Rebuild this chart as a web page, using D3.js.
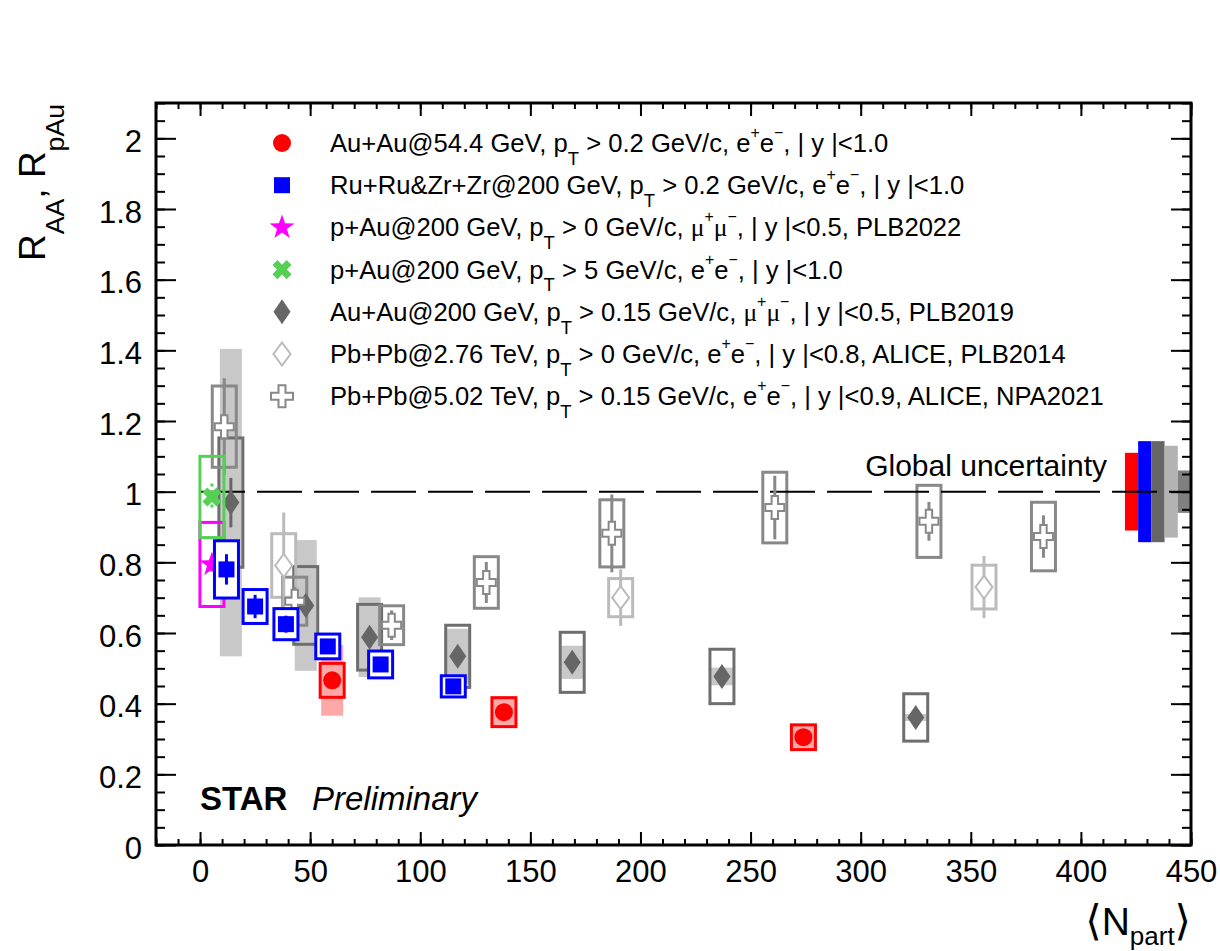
<!DOCTYPE html>
<html><head><meta charset="utf-8">
<script src="https://cdn.jsdelivr.net/npm/d3@7"></script>
<style>
body{margin:0;background:#fff}
text{font-family:"Liberation Sans",Arial,Helvetica,sans-serif;fill:#000}
</style>
</head><body>
<svg id="chart" width="1220" height="951"></svg>
<script>
// ---------------- DATA ----------------
const auau54Npart = [60, 138, 274];
const auau54R     = [0.466, 0.376, 0.305];
const auau54Stat  = [0.012, 0.010, 0.008];
const auau54Sys   = [0.048, 0.041, 0.035];
const auau54Band  = [0.100, 0.041, 0.035];

const ruzrNpart = [12, 25, 39, 58, 82, 115];
const ruzrR     = [0.780, 0.675, 0.625, 0.562, 0.511, 0.449];
const ruzrStat  = [0.043, 0.033, 0.024, 0.020, 0.015, 0.012];
const ruzrSys   = [0.081, 0.048, 0.044, 0.035, 0.038, 0.030];

const pau0Npart = [5.4];
const pau0R     = [0.794];
const pau0Stat  = [0.020];
const pau0Sys   = [0.119];

const pau5Npart = [5.4];
const pau5R     = [0.985];
const pau5Stat  = [0.038];
const pau5Sys   = [0.115];

const auau200Npart = [14, 48, 77, 117, 169, 237, 325];
const auau200R     = [0.969, 0.678, 0.588, 0.534, 0.517, 0.477, 0.361];
const auau200Stat  = [0.070, 0.030, 0.020, 0.020, 0.020, 0.020, 0.020];
const auau200Sys   = [0.183, 0.110, 0.093, 0.088, 0.085, 0.077, 0.067];
const auau200Band  = [0.435, 0.185, 0.113, 0.078, 0.047, 0.025, 0.010];

const pbpb276Npart = [38, 191, 356];
const pbpb276R     = [0.791, 0.700, 0.730];
const pbpb276Stat  = [0.150, 0.080, 0.088];
const pbpb276Sys   = [0.090, 0.054, 0.062];

const pbpb502Npart = [11, 43, 87, 130, 187, 261, 331, 383];
const pbpb502R     = [1.184, 0.690, 0.622, 0.743, 0.882, 0.955, 0.916, 0.873];
const pbpb502Stat  = [0.137, 0.040, 0.042, 0.058, 0.110, 0.090, 0.055, 0.060];
const pbpb502Sys   = [0.115, 0.068, 0.055, 0.073, 0.095, 0.100, 0.102, 0.097];

// global uncertainty boxes (Npart edges and half-height)
const globalLo  = [420, 426, 432, 438, 444];
const globalHi  = [426, 432, 438, 444, 450];
const globalUnc = [0.110, 0.143, 0.143, 0.130, 0.060];

const xTicks = [0, 50, 100, 150, 200, 250, 300, 350, 400, 450];
const yTicks = [0, 0.2, 0.4, 0.6, 0.8, 1, 1.2, 1.4, 1.6, 1.8, 2];
const xMinorTicks = d3.range(-20, 451, 10);
const yMinorTicks = d3.range(0, 2.101, 0.05);

const legendLabels = [
  "Au+Au@54.4 GeV, p_{T} > 0.2 GeV/c, e^{+}e^{\u2212}, | y |<1.0",
  "Ru+Ru&Zr+Zr@200 GeV, p_{T} > 0.2 GeV/c, e^{+}e^{\u2212}, | y |<1.0",
  "p+Au@200 GeV, p_{T} > 0 GeV/c, #mu^{+}#mu^{\u2212}, | y |<0.5, PLB2022",
  "p+Au@200 GeV, p_{T} > 5 GeV/c, e^{+}e^{\u2212}, | y |<1.0",
  "Au+Au@200 GeV, p_{T} > 0.15 GeV/c, #mu^{+}#mu^{\u2212}, | y |<0.5, PLB2019",
  "Pb+Pb@2.76 TeV, p_{T} > 0 GeV/c, e^{+}e^{\u2212}, | y |<0.8, ALICE, PLB2014",
  "Pb+Pb@5.02 TeV, p_{T} > 0.15 GeV/c, e^{+}e^{\u2212}, | y |<0.9, ALICE, NPA2021"
];

// ---------------- SETUP ----------------
const svg = d3.select("#chart");
const x = d3.scaleLinear().domain([-20, 450]).range([156, 1191]);
const y = d3.scaleLinear().domain([0, 2.1]).range([845, 103]);

const C = {
  red: "#ff0000", pink: "#ffa8a8", blue: "#0000ff", mag: "#ff00ff", green: "#55d055",
  dgray: "#666666", dbox: "#6e6e6e", band: "#c8c8c8", lgray: "#bbbbbb", mgray: "#888888"
};

function zip(n, r, a, b) { return n.map((v, i) => ({n: v, r: r[i], a: a ? a[i] : 0, b: b ? b[i] : 0})); }

// marker paths
const P = {
  circle: r => `M${-r},0A${r},${r} 0 1,0 ${r},0A${r},${r} 0 1,0 ${-r},0Z`,
  square: s => `M${-s},${-s}H${s}V${s}H${-s}Z`,
  diamond: (w, h) => `M0,${-h}L${w},0L0,${h}L${-w},0Z`,
  cross: (a, b, u, t) => `M${-u},${-b}H${u}V${-t}H${a}V${t}H${u}V${b}H${-u}V${t}H${-a}V${-t}H${-u}Z`,
  star: (R, r) => { let s = ""; for (let i = 0; i < 10; i++) { const ang = -Math.PI / 2 + i * Math.PI / 5; const rr = i % 2 ? r : R; s += (i ? "L" : "M") + (rr * Math.cos(ang)).toFixed(2) + "," + (rr * Math.sin(ang)).toFixed(2); } return s + "Z"; }
};
const XMARK = "M-3.5,-10H3.5V-3.5H10V3.5H3.5V10H-3.5V3.5H-10V-3.5H-3.5Z";

const BW = 12; // box half-width px
const gBand = svg.append("g"), gGlob = svg.append("g"), gBox = svg.append("g"),
      gDash = svg.append("g"), gMark = svg.append("g");

// Bands (Au+Au 200, light gray)
gBand.append("g").selectAll("rect").data(zip(auau200Npart, auau200R, auau200Band)).join("rect")
  .attr("x", d => x(d.n) - 11).attr("width", 22)
  .attr("y", d => y(d.r + d.a)).attr("height", d => y(d.r - d.a) - y(d.r + d.a))
  .attr("fill", C.band);
// red band
gBand.append("g").selectAll("rect").data(zip(auau54Npart, auau54R, auau54Band)).join("rect")
  .attr("x", d => x(d.n) - 11).attr("width", 22)
  .attr("y", d => y(d.r + d.a)).attr("height", d => y(d.r - d.a) - y(d.r + d.a))
  .attr("fill", C.pink);

// Global uncertainty
const globColors = [C.red, C.blue, C.dgray, "#b3b3b3", "#808080"];
gGlob.selectAll("rect").data(globalLo.map((lo, i) => ({lo, hi: globalHi[i], u: globalUnc[i], c: globColors[i]})))
  .join("rect")
  .attr("x", d => x(d.lo)).attr("width", d => x(d.hi) - x(d.lo))
  .attr("y", d => y(1 + d.u)).attr("height", d => y(1 - d.u) - y(1 + d.u))
  .attr("fill", d => d.c);

function boxes(g, data, stroke, fill) {
  g.append("g").selectAll("rect").data(data).join("rect")
    .attr("x", d => x(d.n) - BW).attr("width", 2 * BW)
    .attr("y", d => y(d.r + d.b)).attr("height", d => y(d.r - d.b) - y(d.r + d.b))
    .attr("fill", fill).attr("stroke", stroke).attr("stroke-width", 3);
}
function errs(g, data, stroke, w, dash) {
  const s = g.append("g").selectAll("line").data(data).join("line")
    .attr("x1", d => x(d.n)).attr("x2", d => x(d.n))
    .attr("y1", d => y(d.r + d.a)).attr("y2", d => y(d.r - d.a))
    .attr("stroke", stroke).attr("stroke-width", w);
  if (dash) s.attr("stroke-dasharray", dash);
}
function marks(g, data, path, fill, stroke, sw, rot) {
  g.append("g").selectAll("path").data(data).join("path")
    .attr("transform", d => `translate(${x(d.n)},${y(d.r)})` + (rot ? ` rotate(${rot})` : ""))
    .attr("d", path).attr("fill", fill).attr("stroke", stroke || "none").attr("stroke-width", sw || 0);
}

const dAu200 = zip(auau200Npart, auau200R, auau200Stat, auau200Sys);
const dPb276 = zip(pbpb276Npart, pbpb276R, pbpb276Stat, pbpb276Sys);
const dPb502 = zip(pbpb502Npart, pbpb502R, pbpb502Stat, pbpb502Sys);
const dP0 = zip(pau0Npart, pau0R, pau0Stat, pau0Sys);
const dP5 = zip(pau5Npart, pau5R, pau5Stat, pau5Sys);
const dRu = zip(ruzrNpart, ruzrR, ruzrStat, ruzrSys);
const dAu54 = zip(auau54Npart, auau54R, auau54Stat, auau54Sys);

// gray boxes
boxes(gBox, dAu200, C.dbox, "none");
boxes(gBox, dPb276, C.lgray, "none");
boxes(gBox, dPb502, C.mgray, "none");

// dashed line at 1
gDash.append("line").attr("x1", x(0)).attr("x2", x(450)).attr("y1", y(1)).attr("y2", y(1))
  .attr("stroke", "#000").attr("stroke-width", 2).attr("stroke-dasharray", "45,12");

// gray markers
errs(gMark, dAu200, C.dgray, 3);
marks(gMark, dAu200, P.diamond(8.5, 12.5), C.dgray);
errs(gMark, dPb276, C.lgray, 3);
marks(gMark, dPb276, P.diamond(8.5, 11.5), "#fff", C.lgray, 2);
errs(gMark, dPb502, C.mgray, 3);
marks(gMark, dPb502, P.cross(9.5, 11.5, 3.2, 3.5), "#fff", C.mgray, 2);

// p+Au
const gP = svg.append("g");
boxes(gP, dP0, C.mag, "none");
errs(gP, dP0, C.mag, 3);
marks(gP, dP0, P.star(13, 5.2), C.mag);
boxes(gP, dP5, C.green, "none");
errs(gP, dP5, C.green, 3, "3,4");
marks(gP, dP5, XMARK, C.green, null, 0, 45);

// Ru+Ru&Zr+Zr
const gRu = svg.append("g");
boxes(gRu, dRu, C.blue, "#fff");
errs(gRu, dRu, C.blue, 3);
marks(gRu, dRu, P.square(8), C.blue);

// Au+Au 54.4
const g54 = svg.append("g");
boxes(g54, dAu54, C.red, C.pink);
errs(g54, dAu54, C.red, 3);
marks(g54, dAu54, P.circle(9), C.red);

// ---------------- AXES / FRAME ----------------
const ax = svg.append("g");
function styleAxis(g) { g.select(".domain").remove(); g.selectAll("line").attr("stroke", "#000").attr("stroke-width", 2); }

ax.append("g").attr("transform", "translate(0,845)")
  .call(d3.axisBottom(x).tickValues(xMinorTicks).tickSize(-6).tickFormat(""))
  .call(styleAxis);
ax.append("g").attr("transform", "translate(0,845)")
  .call(d3.axisBottom(x).tickValues(xTicks).tickSize(-13).tickPadding(16).tickFormat(d3.format("d")))
  .call(styleAxis)
  .call(g => g.selectAll("text").attr("font-size", 31).attr("dy", "0.68em").attr("font-family", "Liberation Sans, Arial, sans-serif").attr("fill", "#000"));
ax.append("g").attr("transform", "translate(0,103)")
  .call(d3.axisTop(x).tickValues(xMinorTicks).tickSize(-6).tickFormat("")).call(styleAxis);
ax.append("g").attr("transform", "translate(0,103)")
  .call(d3.axisTop(x).tickValues(xTicks).tickSize(-13).tickFormat("")).call(styleAxis);

ax.append("g").attr("transform", "translate(156,0)")
  .call(d3.axisLeft(y).tickValues(yMinorTicks).tickSize(-9).tickFormat("")).call(styleAxis);
ax.append("g").attr("transform", "translate(156,0)")
  .call(d3.axisLeft(y).tickValues(yTicks).tickSize(-20).tickPadding(14).tickFormat(d3.format("")))
  .call(styleAxis)
  .call(g => g.selectAll("text").attr("font-size", 31).attr("dy", "0.42em").attr("font-family", "Liberation Sans, Arial, sans-serif").attr("fill", "#000"));
ax.append("g").attr("transform", "translate(1191,0)")
  .call(d3.axisRight(y).tickValues(yMinorTicks).tickSize(-9).tickFormat("")).call(styleAxis);
ax.append("g").attr("transform", "translate(1191,0)")
  .call(d3.axisRight(y).tickValues(yTicks).tickSize(-20).tickFormat("")).call(styleAxis);

svg.append("rect").attr("x", 156).attr("y", 103).attr("width", 1191 - 156).attr("height", 845 - 103)
  .attr("fill", "none").attr("stroke", "#000").attr("stroke-width", 3);

// ---------------- TEXT ----------------
function rich(t, str, size) {
  const re = /(_\{[^}]*\}|\^\{[^}]*\}|#mu|[^_^#]+)/g;
  let cur = 0, m;
  while ((m = re.exec(str))) {
    let s = m[0], target = 0, fs = size, fam = null;
    if (s.startsWith("_{")) { s = s.slice(2, -1); target = size * 0.5; fs = size * 0.72; }
    else if (s.startsWith("^{")) { s = s.slice(2, -1); target = -size * 0.55; fs = size * 0.62; }
    else if (s === "#mu") { s = "\u03bc"; fam = "Liberation Serif, serif"; }
    const ts = t.append("tspan").attr("dy", (target - cur).toFixed(2)).attr("font-size", fs).text(s);
    if (fam) ts.attr("font-family", fam);
    cur = target;
  }
}

// legend
const legX = 282, legTextX = 330, legY0 = 143, legDY = 42.2, legFont = 25.6;
const legMarkers = [
  {d: P.circle(9), fill: C.red},
  {d: P.square(8), fill: C.blue},
  {d: P.star(13, 5.2), fill: C.mag},
  {d: XMARK, fill: C.green, rot: 45},
  {d: P.diamond(8.5, 12.5), fill: C.dgray},
  {d: P.diamond(8.5, 11.5), fill: "#fff", stroke: C.lgray},
  {d: P.cross(11, 11, 3.5, 3.5), fill: "#fff", stroke: C.mgray}
];
const gLeg = svg.append("g");
legendLabels.forEach((lab, i) => {
  const cy = legY0 + i * legDY, mk = legMarkers[i];
  gLeg.append("path").attr("d", mk.d)
    .attr("transform", `translate(${legX},${cy})` + (mk.rot ? ` rotate(${mk.rot})` : ""))
    .attr("fill", mk.fill).attr("stroke", mk.stroke || "none").attr("stroke-width", mk.stroke ? 2 : 0);
  const t = gLeg.append("text").attr("x", legTextX).attr("y", cy + 9).attr("font-size", legFont);
  rich(t, lab, legFont);
});

// Global uncertainty
svg.append("text").attr("x", 1107).attr("y", 476).attr("text-anchor", "end").attr("font-size", 30).text("Global uncertainty");

// STAR Preliminary
svg.append("text").attr("x", 200).attr("y", 810).attr("font-size", 33).attr("font-weight", "bold").text("STAR");
svg.append("text").attr("x", 312).attr("y", 810).attr("font-size", 33).attr("font-style", "italic").text("Preliminary");

// Y title
const yt = svg.append("text").attr("transform", "translate(45,104) rotate(-90)").attr("text-anchor", "end").attr("font-size", 37);
rich(yt, "R_{AA}, R_{pAu}", 37);

// X title
const xt = svg.append("text").attr("x", 1191).attr("y", 935).attr("text-anchor", "end").attr("font-size", 39);
xt.append("tspan").attr("font-family", "DejaVu Sans").attr("font-size", 42).text("\u27e8");
xt.append("tspan").text("N");
xt.append("tspan").attr("dy", 10).attr("font-size", 26).text("part");
xt.append("tspan").attr("dy", -10).attr("font-family", "DejaVu Sans").attr("font-size", 42).text("\u27e9");
</script>
</body></html>
